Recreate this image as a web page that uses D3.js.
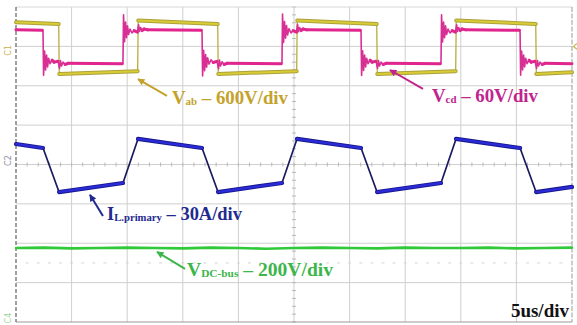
<!DOCTYPE html>
<html>
<head>
<meta charset="utf-8">
<script src="https://cdn.jsdelivr.net/npm/d3@7"></script>
<style>
  html, body { margin: 0; padding: 0; background: #fff; }
  svg { display: block; }
</style>
</head>
<body>
<svg id="scope" width="577" height="325"></svg>
<script>
// Oscilloscope capture: time in µs (5 µs/div, 10 divisions),
// amplitude in screen divisions (8 divisions, centre = 0).

// CH1 – bridge voltage Vab
const vabData = [
  [0, 3.61], [3.84, 3.57], [3.89, 2.30], [10.94, 2.37], [10.99, 3.66],
  [18.14, 3.57], [18.19, 2.30], [25.24, 2.37], [25.29, 3.66],
  [32.44, 3.57], [32.49, 2.30], [39.54, 2.37], [39.59, 3.66],
  [46.74, 3.57], [46.79, 2.30], [50, 2.34]
];

// CH2 – bridge voltage Vcd (with switching ringing)
const vcdData = [
  [0, 3.42], [2.38, 3.41],
  [2.43, 3.36], [2.48, 2.27], [2.57, 2.88], [2.66, 2.40], [2.75, 2.78], [2.84, 2.48], [2.93, 2.70],
  [3.06, 2.56], [3.24, 2.65], [3.43, 2.60], [3.78, 2.62], [3.91, 2.44], [4.00, 2.64], [4.09, 2.50],
  [4.23, 2.60], [4.41, 2.54], [4.68, 2.57], [9.57, 2.56],
  [9.62, 2.60], [9.67, 3.80], [9.76, 3.12], [9.85, 3.62], [9.94, 3.22], [10.03, 3.52], [10.12, 3.30],
  [10.25, 3.44], [10.43, 3.34], [10.62, 3.40], [10.92, 3.36], [11.02, 3.55], [11.11, 3.38], [11.20, 3.48],
  [11.34, 3.40], [11.52, 3.44], [11.82, 3.42], [16.68, 3.41],
  [16.73, 3.36], [16.78, 2.25], [16.87, 2.90], [16.96, 2.38], [17.05, 2.79], [17.14, 2.47], [17.23, 2.71],
  [17.36, 2.55], [17.54, 2.66], [17.73, 2.59], [18.08, 2.62], [18.21, 2.43], [18.30, 2.65], [18.39, 2.50],
  [18.53, 2.61], [18.71, 2.54], [18.98, 2.57], [23.87, 2.56],
  [23.92, 2.60], [23.97, 3.82], [24.06, 3.10], [24.15, 3.63], [24.24, 3.21], [24.33, 3.53], [24.42, 3.29],
  [24.55, 3.45], [24.73, 3.34], [24.92, 3.40], [25.22, 3.36], [25.32, 3.56], [25.41, 3.37], [25.50, 3.48],
  [25.64, 3.40], [25.82, 3.44], [26.12, 3.42], [30.98, 3.41],
  [31.03, 3.36], [31.08, 2.26], [31.17, 2.89], [31.26, 2.39], [31.35, 2.78], [31.44, 2.48], [31.53, 2.70],
  [31.66, 2.56], [31.84, 2.65], [32.03, 2.60], [32.38, 2.62], [32.51, 2.44], [32.60, 2.64], [32.69, 2.50],
  [32.83, 2.60], [33.01, 2.54], [33.28, 2.57], [38.17, 2.56],
  [38.22, 2.60], [38.27, 3.80], [38.36, 3.11], [38.45, 3.62], [38.54, 3.22], [38.63, 3.52], [38.72, 3.30],
  [38.85, 3.44], [39.03, 3.34], [39.22, 3.40], [39.52, 3.36], [39.62, 3.55], [39.71, 3.38], [39.80, 3.48],
  [39.94, 3.40], [40.12, 3.44], [40.42, 3.42], [45.28, 3.41],
  [45.33, 3.36], [45.38, 2.27], [45.47, 2.88], [45.56, 2.40], [45.65, 2.78], [45.74, 2.48], [45.83, 2.70],
  [45.96, 2.56], [46.14, 2.65], [46.33, 2.60], [46.68, 2.62], [46.81, 2.44], [46.90, 2.64], [46.99, 2.50],
  [47.13, 2.60], [47.31, 2.54], [47.58, 2.57], [50, 2.56]
];

// CH3 – primary inductor current
const ilData = [
  [0, 0.52], [2.43, 0.42], [3.87, -0.70], [9.62, -0.47], [10.97, 0.65],
  [16.73, 0.42], [18.17, -0.70], [23.92, -0.47], [25.27, 0.65],
  [31.03, 0.42], [32.47, -0.70], [38.22, -0.47], [39.57, 0.65],
  [45.33, 0.42], [46.77, -0.70], [50, -0.57]
];

// CH4 – DC bus voltage
const vbusData = [
  [0, -2.12], [2.5, -2.11], [5, -2.13], [7.5, -2.12], [10, -2.11], [12.5, -2.12],
  [15, -2.13], [17.5, -2.11], [20, -2.12], [22.5, -2.14], [25, -2.12], [27.5, -2.11],
  [30, -2.12], [32.5, -2.13], [35, -2.11], [37.5, -2.12], [40, -2.12], [42.5, -2.11],
  [45, -2.13], [47.5, -2.12], [50, -2.11]
];

// Annotation texts
const labelMain  = ["V", "V", "I", "V"];
const labelSub   = ["ab", "cd", "L.primary", "DC-bus"];
const labelScale = ["600V/div", "60V/div", "30A/div", "200V/div"];
const timeBase = "5us/div";
const channelTags = ["C1", "C2", "C4"];

// ---- layout ----
const svg = d3.select("#scope");
const plot = { left: 16, right: 572, top: 7, bottom: 322 };
const x = d3.scaleLinear().domain([0, 50]).range([plot.left, plot.right]);
const y = d3.scaleLinear().domain([-4, 4]).range([plot.bottom, plot.top]);

// grid
const grid = svg.append("g");
grid.selectAll("line.v").data(d3.range(5, 50, 5)).join("line")
  .attr("x1", d => x(d)).attr("x2", d => x(d))
  .attr("y1", plot.top).attr("y2", plot.bottom)
  .attr("stroke", "#cfcfcf").attr("stroke-width", 1);
grid.selectAll("line.h").data(d3.range(-3, 4, 1)).join("line")
  .attr("x1", plot.left).attr("x2", plot.right)
  .attr("y1", d => y(d)).attr("y2", d => y(d))
  .attr("stroke", "#cfcfcf").attr("stroke-width", 1);

// minor ticks on the centre axes
grid.selectAll("line.mx").data(d3.range(0, 50.01, 1)).join("line")
  .attr("x1", d => x(d)).attr("x2", d => x(d))
  .attr("y1", y(0) - 2).attr("y2", y(0) + 2)
  .attr("stroke", "#b8b8b8");
grid.selectAll("line.my").data(d3.range(-4, 4.01, 0.2)).join("line")
  .attr("x1", x(25) - 2).attr("x2", x(25) + 2)
  .attr("y1", d => y(d)).attr("y2", d => y(d))
  .attr("stroke", "#b8b8b8");
// faint tick row
grid.selectAll("line.fr").data(d3.range(1, 50, 1)).join("line")
  .attr("x1", d => x(d) - 1.5).attr("x2", d => x(d) + 1.5)
  .attr("y1", y(-2.5)).attr("y2", y(-2.5))
  .attr("stroke", "#d4d4d4");

// frame
svg.append("line").attr("x1", plot.left).attr("x2", plot.right)
  .attr("y1", plot.top).attr("y2", plot.top).attr("stroke", "#d8d8d8");
svg.append("line").attr("x1", plot.left).attr("x2", plot.right)
  .attr("y1", plot.bottom).attr("y2", plot.bottom).attr("stroke", "#9a9a9a");
svg.append("line").attr("x1", plot.right).attr("x2", plot.right)
  .attr("y1", plot.top).attr("y2", plot.bottom).attr("stroke", "#9a9a9a")
  .attr("stroke-dasharray", "5,1.5");
svg.append("line").attr("x1", plot.left).attr("x2", plot.left)
  .attr("y1", plot.top).attr("y2", plot.bottom).attr("stroke", "#6e6e6e")
  .attr("stroke-width", 1.3).attr("stroke-dasharray", "4,2");

// ---- traces ----
const line = d3.line().x(d => x(d[0])).y(d => y(d[1]));
const slowSegments = (data, limit) => {
  const out = [];
  for (let i = 1; i < data.length; i++) {
    const a = data[i - 1], b = data[i];
    if (Math.abs((b[1] - a[1]) / (b[0] - a[0])) < limit) out.push([a, b]);
  }
  return out;
};
const traces = svg.append("g").attr("fill", "none")
  .attr("stroke-linejoin", "round").attr("stroke-linecap", "round");

// DC bus
traces.append("path").datum(vbusData).attr("d", line)
  .attr("stroke", "#2fc93a").attr("stroke-width", 2.6);

// Vab
traces.append("path").datum(vabData).attr("d", line)
  .attr("stroke", "#b7ad3c").attr("stroke-width", 1.3);
traces.selectAll("path.vabF").data(slowSegments(vabData, 0.3)).join("path")
  .attr("d", line).attr("stroke", "#aaa23a").attr("stroke-width", 4);
traces.selectAll("path.vabC").data(slowSegments(vabData, 0.3)).join("path")
  .attr("d", line).attr("stroke", "#d9cb36").attr("stroke-width", 2);

// Vcd
traces.append("path").datum(vcdData).attr("d", line)
  .attr("stroke", "#d82f95").attr("stroke-width", 1.6);
traces.selectAll("path.vcdF").data(slowSegments(vcdData, 0.3)).join("path")
  .attr("d", line).attr("stroke", "#e0268e").attr("stroke-width", 3);

// IL
traces.append("path").datum(ilData).attr("d", line)
  .attr("stroke", "#1a1a60").attr("stroke-width", 1.7);
traces.selectAll("path.ilF").data(slowSegments(ilData, 0.3)).join("path")
  .attr("d", line).attr("stroke", "#16168a").attr("stroke-width", 4.2);
traces.selectAll("path.ilC").data(slowSegments(ilData, 0.3)).join("path")
  .attr("d", line).attr("stroke", "#2a2ad6").attr("stroke-width", 2.4);

// ---- channel markers ----
const tagColors = ["#c9b04a", "#8a8aa0", "#9fd49f"];
const tagPos = [2.9, 0.1, -3.9];
svg.selectAll("text.tag").data(channelTags).join("text")
  .attr("transform", (d, i) => `translate(11,${y(tagPos[i])}) rotate(-90)`)
  .attr("text-anchor", "middle")
  .attr("font-family", "DejaVu Sans, sans-serif").attr("font-size", 8)
  .attr("fill", (d, i) => tagColors[i]).text(d => d);
// trigger level marker
svg.append("path")
  .attr("d", `M${plot.right + 5},${y(3) - 3} L${plot.right + 1.5},${y(3)} L${plot.right + 5},${y(3) + 3}`)
  .attr("fill", "none").attr("stroke", "#c9b04a").attr("stroke-width", 1.2);

// ---- annotations ----
const labelColors = ["#c4a22c", "#c0248f", "#1f2a90", "#3cb64a"];
const arrowHead = [[10.97, 2.17], [33.63, 2.40], [6.65, -0.77], [12.68, -2.22]];
const arrowTail = [[13.58, 1.74], [36.60, 1.92], [7.82, -1.31], [15.20, -2.65]];
const textAt    = [[14.03, 1.54], [37.41, 1.59], [8.18, -1.41], [15.38, -2.83]];
const textWidth = [116, 106, 135, 146];

const defs = svg.append("defs");
labelColors.forEach((c, i) => {
  defs.append("marker").attr("id", "ah" + i)
    .attr("viewBox", "0 0 10 10").attr("refX", 9).attr("refY", 5)
    .attr("markerWidth", 9).attr("markerHeight", 7).attr("markerUnits", "userSpaceOnUse")
    .attr("orient", "auto")
    .append("path").attr("d", "M0,0 L10,5 L0,10 Z").attr("fill", c);
});

const ann = svg.append("g");
labelMain.forEach((m, i) => {
  ann.append("line")
    .attr("x1", x(arrowTail[i][0])).attr("y1", y(arrowTail[i][1]))
    .attr("x2", x(arrowHead[i][0])).attr("y2", y(arrowHead[i][1]))
    .attr("stroke", labelColors[i]).attr("stroke-width", 2)
    .attr("marker-end", `url(#ah${i})`);
  const t = ann.append("text")
    .attr("x", x(textAt[i][0])).attr("y", y(textAt[i][1]))
    .attr("font-family", "'Liberation Serif', 'Times New Roman', serif")
    .attr("font-weight", "bold").attr("font-size", 19)
    .attr("fill", labelColors[i])
    .attr("textLength", textWidth[i]).attr("lengthAdjust", "spacingAndGlyphs");
  t.append("tspan").text(m);
  t.append("tspan").attr("font-size", 11).attr("dy", 1).text(labelSub[i]);
  t.append("tspan").attr("dy", -1).text(" \u2013 " + labelScale[i]);
});

svg.append("text")
  .attr("x", 569).attr("y", 317).attr("text-anchor", "end")
  .attr("font-family", "'Liberation Serif', 'Times New Roman', serif")
  .attr("font-weight", "bold").attr("font-size", 19).attr("fill", "#111")
  .text(timeBase);
</script>
</body>
</html>
